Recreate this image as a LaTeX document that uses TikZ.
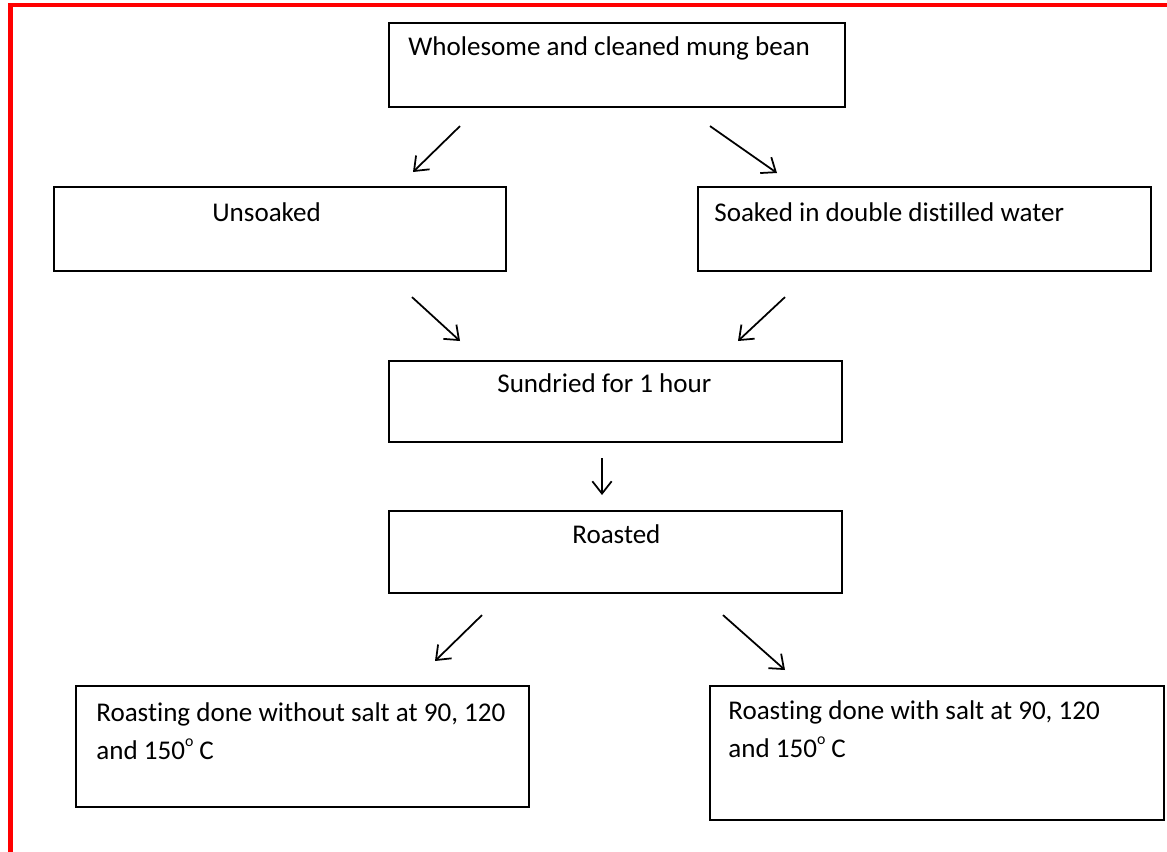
\documentclass[tikz,border=0pt]{standalone}
\usepackage{fontspec}
\setmainfont{Carlito}[Ligatures=NoCommon]
\usetikzlibrary{arrows.meta}
\newcommand{\degsign}{\raisebox{0.45em}{\fontsize{9}{9}\selectfont o}}
\begin{document}
\begin{tikzpicture}[x=0.02cm, y=-0.02cm,
    box/.style={draw, line width=1.2pt, anchor=north west, inner sep=0pt},
    txt/.style={anchor=base west, inner sep=0pt, align=left, font=\fontsize{15.4}{21.5}\selectfont},
    flow/.style={-{Straight Barb[length=7pt,width=11pt]}, line width=1pt}]
  \useasboundingbox (0,0) rectangle (1167,852);
  % red frame
  \draw[red, line width=2.4pt] (10.5,852) -- (10.5,5.3) -- (1167,5.3);
  % boxes
  \node[box, minimum width=9.12cm, minimum height=1.68cm] (bean) at (388,22) {};
  \node[box, minimum width=9.04cm, minimum height=1.68cm] (unsoak) at (53,186) {};
  \node[box, minimum width=9.06cm, minimum height=1.68cm] (soak) at (697,186) {};
  \node[box, minimum width=9.06cm, minimum height=1.62cm] (sun) at (388,360) {};
  \node[box, minimum width=9.06cm, minimum height=1.64cm] (roast) at (388,510) {};
  \node[box, minimum width=9.06cm, minimum height=2.42cm] (nosalt) at (75,685) {};
  \node[box, minimum width=9.08cm, minimum height=2.68cm] (salt) at (709,685) {};
  % texts
  \node[txt] (beant) at (408,55) {Wholesome and cleaned mung bean};
  \node[txt] (unsoakt) at (212,221) {Unsoaked};
  \node[txt] (soakt) at (714,221) {Soaked in double distilled water};
  \node[txt] (sunt) at (497,392) {Sundried for 1 hour};
  \node[txt] (roastt) at (572,543) {Roasted};
  \node[txt] (nosaltt) at (96,759) {Roasting done without salt at 90, 120\\and 150\degsign{} C};
  \node[txt] (saltt) at (728,757) {Roasting done with salt at 90, 120\\and 150\degsign{} C};
  % arrows
  \draw[flow] ([shift={(72,18)}]bean.south west) -- ([shift={(360,-14)}]unsoak.north west);
  \draw[flow] ([shift={(322,18)}]bean.south west) -- ([shift={(80,-13)}]soak.north west);
  \draw[flow] ([shift={(359,25)}]unsoak.south west) -- ([shift={(72,-19)}]sun.north west);
  \draw[flow] ([shift={(88,25)}]soak.south west) -- ([shift={(350,-19)}]sun.north west);
  \draw[flow] ([shift={(214,15)}]sun.south west) -- ([shift={(214,-15)}]roast.north west);
  \draw[flow] ([shift={(94,21)}]roast.south west) -- ([shift={(360,-24)}]nosalt.north west);
  \draw[flow] ([shift={(335,21)}]roast.south west) -- ([shift={(76,-15)}]salt.north west);
\end{tikzpicture}
\end{document}
